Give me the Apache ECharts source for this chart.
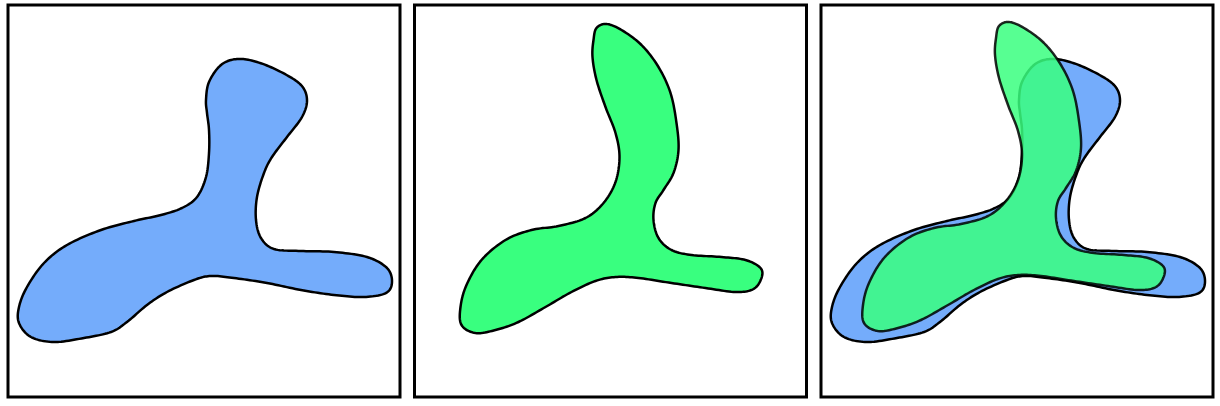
<!DOCTYPE html>
<html>
<head>
<meta charset="utf-8">
<title>shape morph</title>
<script src="https://cdn.jsdelivr.net/npm/echarts@6/dist/echarts.min.js"></script>
<style>
    html, body { margin: 0; padding: 0; background: #fff; }
    #main { width: 1220px; height: 406px; }
</style>
</head>
<body>
<div id="main"></div>
<script>
// outline of the blue shape (panel coords, y down)
var blueShape = [
    [198, 95], [201, 77], [213, 60], [229, 54], [249, 57], [273, 67], [293, 80], [299, 95],
    [294, 112], [279, 132], [264, 152], [256, 168], [249, 192], [248, 215], [253, 233], [266, 244],
    [293, 246], [326, 247], [359, 252], [379, 263], [384, 277], [378, 288], [356, 292], [326, 290],
    [293, 285], [259, 278], [226, 273], [203, 271], [186, 275], [159, 287], [139, 300], [119, 317],
    [103, 327], [76, 333], [46, 337], [23, 332], [11, 318], [11, 302], [19, 282], [36, 258],
    [59, 240], [93, 225], [126, 216], [153, 210], [174, 203], [189, 192], [198, 172], [201, 148],
    [201, 125], [199, 108]
];

// outline of the green shape
var greenShape = [
    [179, 35], [182, 23], [192, 19], [207, 25], [227, 40], [244, 62], [256, 88], [262, 118],
    [264, 145], [259, 168], [249, 185], [241, 198], [239, 215], [244, 233], [257, 245], [277, 250],
    [307, 252], [331, 255], [346, 263], [347, 273], [339, 284], [321, 287], [291, 283], [257, 278],
    [224, 273], [201, 272], [181, 276], [157, 287], [131, 302], [104, 317], [81, 325], [61, 328],
    [47, 320], [46, 302], [52, 280], [67, 255], [91, 235], [117, 225], [144, 221], [171, 213],
    [189, 198], [201, 177], [205, 152], [201, 128], [191, 102], [182, 75], [178, 52]
];

var BLUE = '#74acfb';
var GREEN = '#39ff7f';

var myChart = echarts.init(document.getElementById('main'));

var panelLeft = [8, 414.5, 821];
var boxSize = 392;

var grids = [], xAxes = [], yAxes = [];
for (var i = 0; i < 4; i++) {
    // grid 3 is the overlay of the green shape in the last panel (nudged a little)
    var isOverlay = i === 3;
    grids.push({
        left: isOverlay ? panelLeft[2] - 4 : panelLeft[i],
        top: isOverlay ? 3 : 5,
        width: boxSize,
        height: boxSize,
        show: !isOverlay,
        borderColor: '#000',
        borderWidth: 3,
        backgroundColor: 'transparent'
    });
    xAxes.push({ type: 'value', gridIndex: i, min: 0, max: boxSize, show: false });
    yAxes.push({ type: 'value', gridIndex: i, min: 0, max: boxSize, inverse: true, show: false });
}

// closed catmull-rom through the outline points, sampled into a fine polygon
function closedSpline(pts, steps) {
    var n = pts.length, out = [];
    for (var k = 0; k < n; k++) {
        var p0 = pts[(k - 1 + n) % n], p1 = pts[k], p2 = pts[(k + 1) % n], p3 = pts[(k + 2) % n];
        for (var s = 0; s < steps; s++) {
            var t = s / steps, t2 = t * t, t3 = t2 * t;
            var x = 0.5 * (2 * p1[0] + (-p0[0] + p2[0]) * t + (2 * p0[0] - 5 * p1[0] + 4 * p2[0] - p3[0]) * t2 + (-p0[0] + 3 * p1[0] - 3 * p2[0] + p3[0]) * t3);
            var y = 0.5 * (2 * p1[1] + (-p0[1] + p2[1]) * t + (2 * p0[1] - 5 * p1[1] + 4 * p2[1] - p3[1]) * t2 + (-p0[1] + 3 * p1[1] - 3 * p2[1] + p3[1]) * t3);
            out.push([x, y]);
        }
    }
    return out;
}

function shapeSeries(points, gridIdx, color, opacity, z) {
    return {
        type: 'custom',
        xAxisIndex: gridIdx,
        yAxisIndex: gridIdx,
        data: points,
        z: z,
        silent: true,
        renderItem: function(params, api) {
            if (params.dataIndex !== 0) return;
            var pts = points.map(function(p) {
                return api.coord(p);
            });
            return {
                type: 'polygon',
                shape: { points: closedSpline(pts, 12) },
                style: {
                    fill: color,
                    stroke: '#000',
                    lineWidth: 2.5,
                    lineJoin: 'round',
                    opacity: opacity
                }
            };
        }
    };
}

var option = {
    animation: false,
    grid: grids,
    xAxis: xAxes,
    yAxis: yAxes,
    series: [
        shapeSeries(blueShape, 0, BLUE, 1, 2),
        shapeSeries(greenShape, 1, GREEN, 1, 2),
        shapeSeries(blueShape, 2, BLUE, 1, 2),
        shapeSeries(greenShape, 3, GREEN, 0.85, 3)
    ]
};

myChart.setOption(option);
</script>
</body>
</html>
